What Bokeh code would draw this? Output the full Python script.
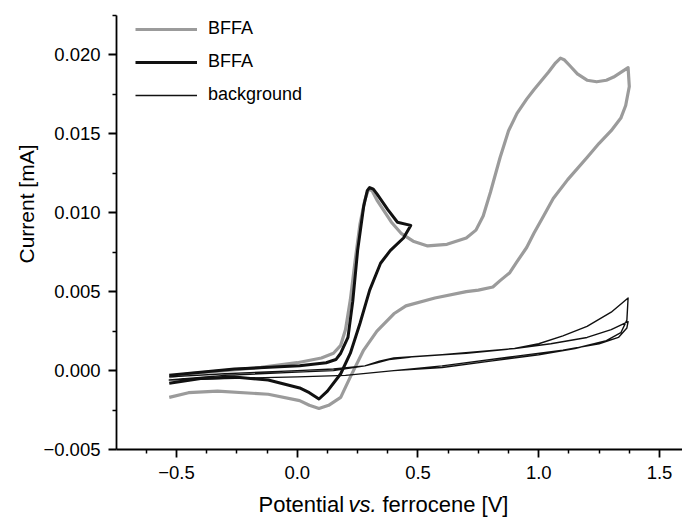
import math
from bokeh.plotting import figure
from bokeh.layouts import row, column
from bokeh.models import FixedTicker, Legend, LegendItem
from bokeh.core.properties import value
from bokeh.embed import file_html
from bokeh.resources import INLINE

# ---------------- data ----------------
# BFFA, wide scan (grey): forward branch then reverse branch
gray_v = [-0.53, -0.45, -0.30, -0.15, 0.00, 0.10, 0.15, 0.18, 0.20, 0.22, 0.24, 0.26,
          0.28, 0.295, 0.31, 0.33, 0.36, 0.39, 0.43, 0.48, 0.54, 0.62, 0.70, 0.74,
          0.77, 0.80, 0.84, 0.875, 0.91, 0.95, 0.98, 1.04, 1.07, 1.09, 1.105, 1.13,
          1.16, 1.20, 1.24, 1.28, 1.31, 1.34, 1.37,
          1.375, 1.36, 1.34, 1.30, 1.25, 1.20, 1.12, 1.06, 1.02, 0.98, 0.95, 0.91,
          0.88, 0.84, 0.81, 0.75, 0.70, 0.57, 0.45,
          0.40, 0.33, 0.275, 0.22, 0.18, 0.13, 0.09, 0.05, 0.01, -0.12, -0.33, -0.45, -0.53]
gray_i = [-0.0004, -0.0002, 0.0000, 0.0002, 0.0005, 0.0008, 0.0011, 0.0016, 0.0026, 0.0045, 0.0070, 0.0093,
          0.0108, 0.0115, 0.0114, 0.0108, 0.0101, 0.0094, 0.0087, 0.0082, 0.0079, 0.0080, 0.0084, 0.0089,
          0.0098, 0.0113, 0.0135, 0.0152, 0.0163, 0.0172, 0.0178, 0.0189, 0.0195, 0.0198, 0.0197, 0.0193,
          0.0188, 0.0184, 0.0183, 0.0184, 0.0186, 0.0189, 0.0192,
          0.0180, 0.0168, 0.0160, 0.0152, 0.0144, 0.0135, 0.0121, 0.0109, 0.0098, 0.0087, 0.0078, 0.0069,
          0.0062, 0.0057, 0.0053, 0.0051, 0.0050, 0.0046, 0.0041,
          0.0036, 0.0025, 0.0013, -0.0004, -0.0017, -0.0022, -0.0024, -0.0022, -0.0019, -0.0015, -0.0013, -0.0014, -0.0017]

# BFFA, narrow scan (black)
black_v = [-0.53, -0.40, -0.26, 0.01, 0.12, 0.16, 0.18, 0.21, 0.23, 0.25, 0.275, 0.29, 0.30,
           0.315, 0.33, 0.375, 0.415, 0.47,
           0.44, 0.385, 0.345, 0.30, 0.26, 0.22, 0.18, 0.125, 0.09, 0.05, 0.01, -0.12, -0.26, -0.40, -0.53]
black_i = [-0.0003, -0.0001, 0.0001, 0.0003, 0.0005, 0.0007, 0.0011, 0.0021, 0.0044, 0.0076, 0.0104, 0.0114, 0.0116,
           0.0115, 0.0112, 0.0102, 0.0094, 0.0092,
           0.0084, 0.0076, 0.0068, 0.0051, 0.0030, 0.0011, -0.0002, -0.0013, -0.0018, -0.0014, -0.0011, -0.0006, -0.0004, -0.0005, -0.0008]

# background (thin black), two cycles
bg_v = [-0.53, -0.30, 0.00, 0.15, 0.28, 0.33, 0.38, 0.50, 0.70, 0.90, 1.00, 1.10, 1.20, 1.30, 1.37,
        1.365, 1.34, 1.28, 1.15, 1.00, 0.80, 0.60, 0.40, 0.20, 0.00, -0.30, -0.53,
        -0.30, 0.00, 0.15, 0.28, 0.34, 0.40, 0.60, 0.90, 1.05, 1.20, 1.30, 1.37,
        1.365, 1.33, 1.25, 1.10, 0.90, 0.60, 0.40, 0.20, 0.00, -0.30, -0.53]
bg_i = [-0.0004, -0.0002, 0.0000, 0.0001, 0.0003, 0.0005, 0.0007, 0.0009, 0.0011, 0.0014, 0.0017, 0.0022, 0.0028, 0.0037, 0.0046,
        0.0032, 0.0024, 0.0019, 0.0014, 0.0010, 0.0006, 0.0002, 0.0000, -0.0003, -0.0004, -0.0005, -0.0006,
        -0.0003, -0.0001, 0.0000, 0.0003, 0.0006, 0.0008, 0.0010, 0.0014, 0.0017, 0.0021, 0.0026, 0.0031,
        0.0027, 0.0021, 0.0017, 0.0013, 0.0009, 0.0003, 0.0000, -0.0003, -0.0004, -0.0005, -0.0006]

x_ticks = [-0.5, 0.0, 0.5, 1.0, 1.5]
x_tick_labels = ["\u22120.5", "0.0", "0.5", "1.0", "1.5"]
x_minor = [-0.625, -0.375, -0.25, -0.125, 0.125, 0.25, 0.375, 0.625, 0.75, 0.875,
           1.125, 1.25, 1.375]
y_ticks = [-0.005, 0.0, 0.005, 0.010, 0.015, 0.020]
y_tick_labels = ["\u22120.005", "0.000", "0.005", "0.010", "0.015", "0.020"]
y_minor = [-0.0025, 0.0025, 0.0075, 0.0125, 0.0175, 0.0225]

legend_labels = ["BFFA", "BFFA", "background"]

# axis title pieces: (text, style)
x_title = [("Potential", "normal"), ("vs.", "italic"), ("ferrocene [V]", "normal")]
y_title = "Current [mA]"

FONT = "Liberation Sans"
TOTAL_W, TOTAL_H = 682, 517
LEFT_W = 40          # strip holding the y title
BOTTOM_H = 27        # strip holding the x title
FRAME_LEFT, FRAME_TOP, FRAME_BOTTOM = 116, 15, 449

main_w = TOTAL_W - LEFT_W
main_h = TOTAL_H - BOTTOM_H
px_per_v = 241.5
x_start = -0.7484
x_end = x_start + (TOTAL_W - FRAME_LEFT) / px_per_v

p = figure(width=main_w, height=main_h, x_range=(x_start, x_end), y_range=(-0.005, 0.0225),
           output_backend="svg", toolbar_location=None, title=None,
           min_border_left=FRAME_LEFT - LEFT_W, min_border_right=0,
           min_border_top=FRAME_TOP, min_border_bottom=main_h - FRAME_BOTTOM)
p.outline_line_color = None
p.grid.visible = False
p.background_fill_color = "white"
p.border_fill_color = "white"

r_gray = p.line(gray_v, gray_i, line_color="#9b9b9b", line_width=3.2, line_join="round")
r_bg = p.line(bg_v, bg_i, line_color="#111111", line_width=1.4, line_join="round")
r_black = p.line(black_v, black_i, line_color="#111111", line_width=3.0, line_join="round")

p.xaxis.ticker = FixedTicker(ticks=x_ticks, minor_ticks=x_minor)
p.yaxis.ticker = FixedTicker(ticks=y_ticks, minor_ticks=y_minor)
p.xaxis.major_label_overrides = {t: s for t, s in zip(x_ticks, x_tick_labels)}
p.yaxis.major_label_overrides = {t: s for t, s in zip(y_ticks, y_tick_labels)}

for ax in (p.xaxis[0], p.yaxis[0]):
    ax.axis_line_width = 1.8
    ax.axis_line_color = "black"
    ax.major_tick_line_width = 1.8
    ax.minor_tick_line_width = 1.5
    ax.major_tick_out = 8
    ax.major_tick_in = 0
    ax.minor_tick_out = 4
    ax.minor_tick_in = 0
    ax.major_label_text_font = FONT
    ax.major_label_text_font_size = "18.5px"
    ax.major_label_text_color = "black"
    ax.major_label_standoff = 8

legend = Legend(items=[LegendItem(label=legend_labels[0], renderers=[r_gray]),
                       LegendItem(label=legend_labels[1], renderers=[r_black]),
                       LegendItem(label=legend_labels[2], renderers=[r_bg])],
                location=(19, 344), orientation="vertical",
                glyph_width=62, glyph_height=20, label_height=20, label_standoff=11,
                spacing=12, padding=0, margin=0,
                border_line_color=None, background_fill_alpha=0,
                label_text_font=FONT, label_text_font_size="18px", label_text_color="black")
p.add_layout(legend)

# ---- strip below: x title (shares the x scale, frame aligned with the main frame)
q = figure(width=main_w, height=BOTTOM_H, x_range=p.x_range, y_range=(0, BOTTOM_H),
           output_backend="svg", toolbar_location=None, x_axis_type=None, y_axis_type=None,
           title=None,
           min_border_left=FRAME_LEFT - LEFT_W, min_border_right=0, min_border_top=0,
           min_border_bottom=0)
q.outline_line_color = None
q.grid.visible = False
q.border_fill_color = "white"
xt_pos = [-0.1605, 0.2122, 0.353]   # left edges of the title pieces (x-axis units)
for xpos, (txt, style) in zip(xt_pos, x_title):
    q.text(x=[xpos], y=[12.8], text=[txt], text_font=value(FONT),
           text_font_size="22px", text_font_style=style, text_align="left",
           text_baseline="middle", text_color="black")

# ---- strip at left: y title
r = figure(width=LEFT_W, height=TOTAL_H, x_range=(0, LEFT_W), y_range=(0, TOTAL_H),
           output_backend="svg", toolbar_location=None, x_axis_type=None, y_axis_type=None,
           title=None, min_border=0)
r.outline_line_color = None
r.grid.visible = False
r.border_fill_color = "white"
r.text(x=[25.7], y=[TOTAL_H - 263], text=[y_title], angle=math.pi / 2,
       text_font=value(FONT), text_font_size="21px", text_align="left",
       text_baseline="middle", text_color="black")

layout = row(r, column(p, q, spacing=0), spacing=0)

open("out.html", "w").write(file_html(layout, INLINE))
